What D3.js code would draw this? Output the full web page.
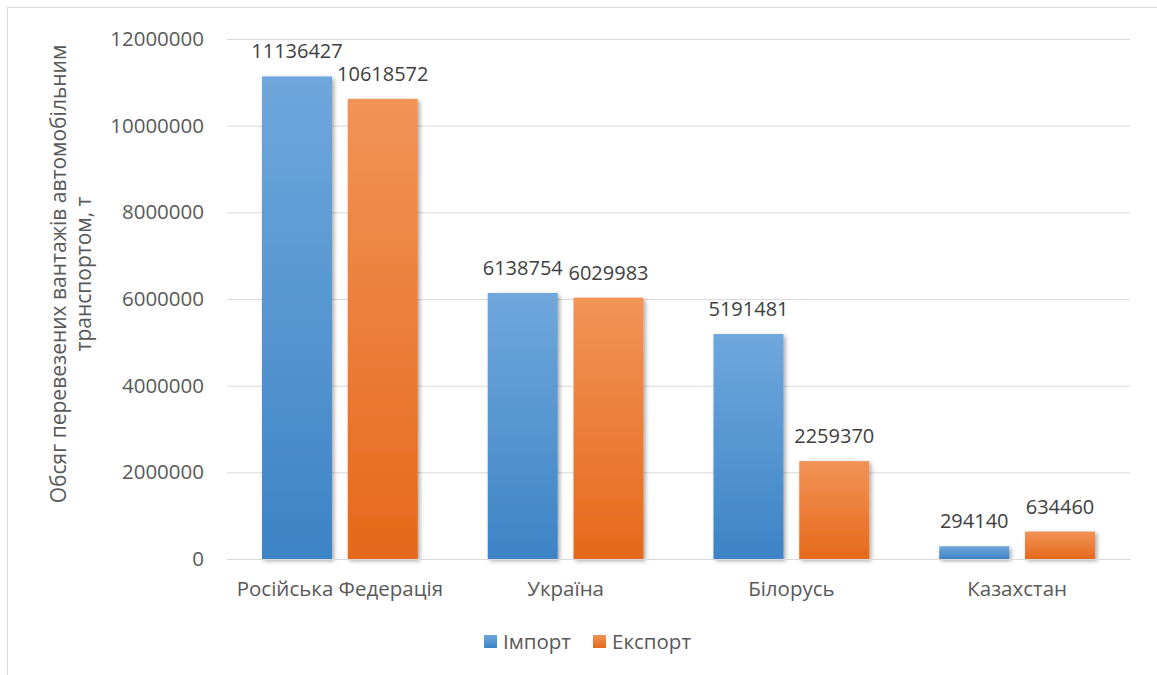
<!DOCTYPE html>
<html>
<head>
<meta charset="utf-8">
<script src="https://cdn.jsdelivr.net/npm/d3@7"></script>
<style>
  html, body { margin: 0; padding: 0; background: #fff; }
  svg { display: block; font-family: "Open Sans", "Liberation Sans", sans-serif; }
</style>
</head>
<body>
<svg id="chart" width="1157" height="675"></svg>
<script>
// Cargo volumes by road transport, tonnes
const countries = ["Російська Федерація", "Україна", "Білорусь", "Казахстан"];
const seriesNames = ["Імпорт", "Експорт"];
const importValues = [11136427, 6138754, 5191481, 294140];
const exportValues = [10618572, 6029983, 2259370, 634460];
const yTicks = [0, 2000000, 4000000, 6000000, 8000000, 10000000, 12000000];
const yTitleLines = ["Обсяг перевезених вантажів автомобільним", "транспортом, т"];

const svg = d3.select("#chart");
const W = 1157, H = 675;
const plot = { left: 227, right: 1130, top: 39, bottom: 559 };

// Outer frame
svg.append("rect")
  .attr("x", 7.5).attr("y", 7.5)
  .attr("width", W + 10).attr("height", H + 10)
  .attr("fill", "#fff").attr("stroke", "#d9d9d9").attr("stroke-width", 1);

const defs = svg.append("defs");
const grads = [
  { id: "gImp", top: "#6fa7dc", bottom: "#3d84c6" },
  { id: "gExp", top: "#f29358", bottom: "#e5691a" }
];
grads.forEach(g => {
  const lg = defs.append("linearGradient").attr("id", g.id)
    .attr("x1", 0).attr("y1", 0).attr("x2", 0).attr("y2", 1);
  lg.append("stop").attr("offset", "0%").attr("stop-color", g.top);
  lg.append("stop").attr("offset", "100%").attr("stop-color", g.bottom);
});
const shadow = defs.append("filter").attr("id", "shadow")
  .attr("x", "-20%").attr("y", "-20%").attr("width", "150%").attr("height", "150%");
shadow.append("feDropShadow")
  .attr("dx", 2).attr("dy", 2).attr("stdDeviation", 2)
  .attr("flood-color", "#000").attr("flood-opacity", 0.35);

const y = d3.scaleLinear().domain([0, 12000000]).range([plot.bottom, plot.top]);
const x0 = d3.scaleBand().domain(countries).range([plot.left, plot.right]).paddingInner(0.31).paddingOuter(0.155);
const x1 = d3.scaleBand().domain(seriesNames).range([0, x0.bandwidth()]).paddingInner(0.184);

// Gridlines
svg.append("g")
  .attr("transform", `translate(${plot.left},0)`)
  .call(d3.axisLeft(y).tickValues(yTicks).tickSize(-(plot.right - plot.left)).tickFormat(""))
  .call(g => g.select(".domain").remove())
  .call(g => g.selectAll("line").attr("stroke", "#d9d9d9").attr("stroke-width", 1));

// Y tick labels
svg.append("g")
  .attr("transform", `translate(${plot.left},0)`)
  .call(d3.axisLeft(y).tickValues(yTicks).tickSize(0).tickPadding(23).tickFormat(d3.format("d")))
  .call(g => g.select(".domain").remove())
  .call(g => g.selectAll("text")
    .attr("fill", "#595959").attr("font-size", "20.5px")
    .attr("font-family", "'Open Sans', 'Liberation Sans', sans-serif"));

// Bars
const data = countries.map((c, i) => ({
  country: c,
  values: [
    { key: seriesNames[0], value: importValues[i], fill: "url(#gImp)" },
    { key: seriesNames[1], value: exportValues[i], fill: "url(#gExp)" }
  ]
}));

const groups = svg.append("g").selectAll("g").data(data).join("g")
  .attr("transform", d => `translate(${x0(d.country)},0)`);

groups.selectAll("rect").data(d => d.values).join("rect")
  .attr("x", d => x1(d.key))
  .attr("y", d => y(d.value))
  .attr("width", x1.bandwidth())
  .attr("height", d => y(0) - y(d.value))
  .attr("fill", d => d.fill)
  .attr("filter", "url(#shadow)");

groups.selectAll("text.val").data(d => d.values).join("text")
  .attr("class", "val")
  .attr("x", d => x1(d.key) + x1.bandwidth() / 2)
  .attr("y", d => y(d.value) - 18)
  .attr("text-anchor", "middle")
  .attr("fill", "#404040")
  .attr("font-size", "20px")
  .text(d => d.value);

// X axis baseline and category labels
svg.append("g")
  .attr("transform", `translate(0,${plot.bottom})`)
  .call(d3.axisBottom(x0).tickSize(0).tickPadding(22))
  .call(g => g.select(".domain").attr("stroke", "#d9d9d9"))
  .call(g => g.selectAll("text")
    .attr("fill", "#595959").attr("font-size", "20.5px")
    .attr("font-family", "'Open Sans', 'Liberation Sans', sans-serif"));

// Y axis title
const yTitle = svg.append("text")
  .attr("transform", "translate(0,274) rotate(-90)")
  .attr("text-anchor", "middle")
  .attr("fill", "#595959")
  .attr("font-size", "21px");
yTitle.selectAll("tspan").data(yTitleLines).join("tspan")
  .attr("x", 0)
  .attr("y", (d, i) => 66 + i * 25)
  .text(d => d);

// Legend
const legendItems = [
  { name: seriesNames[0], fill: "url(#gImp)", x: 484 },
  { name: seriesNames[1], fill: "url(#gExp)", x: 593 }
];
const legend = svg.append("g").selectAll("g").data(legendItems).join("g")
  .attr("transform", d => `translate(${d.x},635)`);
legend.append("rect").attr("width", 13).attr("height", 13).attr("fill", d => d.fill);
legend.append("text")
  .attr("x", 19).attr("y", 7).attr("dy", "0.35em")
  .attr("fill", "#595959").attr("font-size", "20.5px")
  .text(d => d.name);
</script>
</body>
</html>
